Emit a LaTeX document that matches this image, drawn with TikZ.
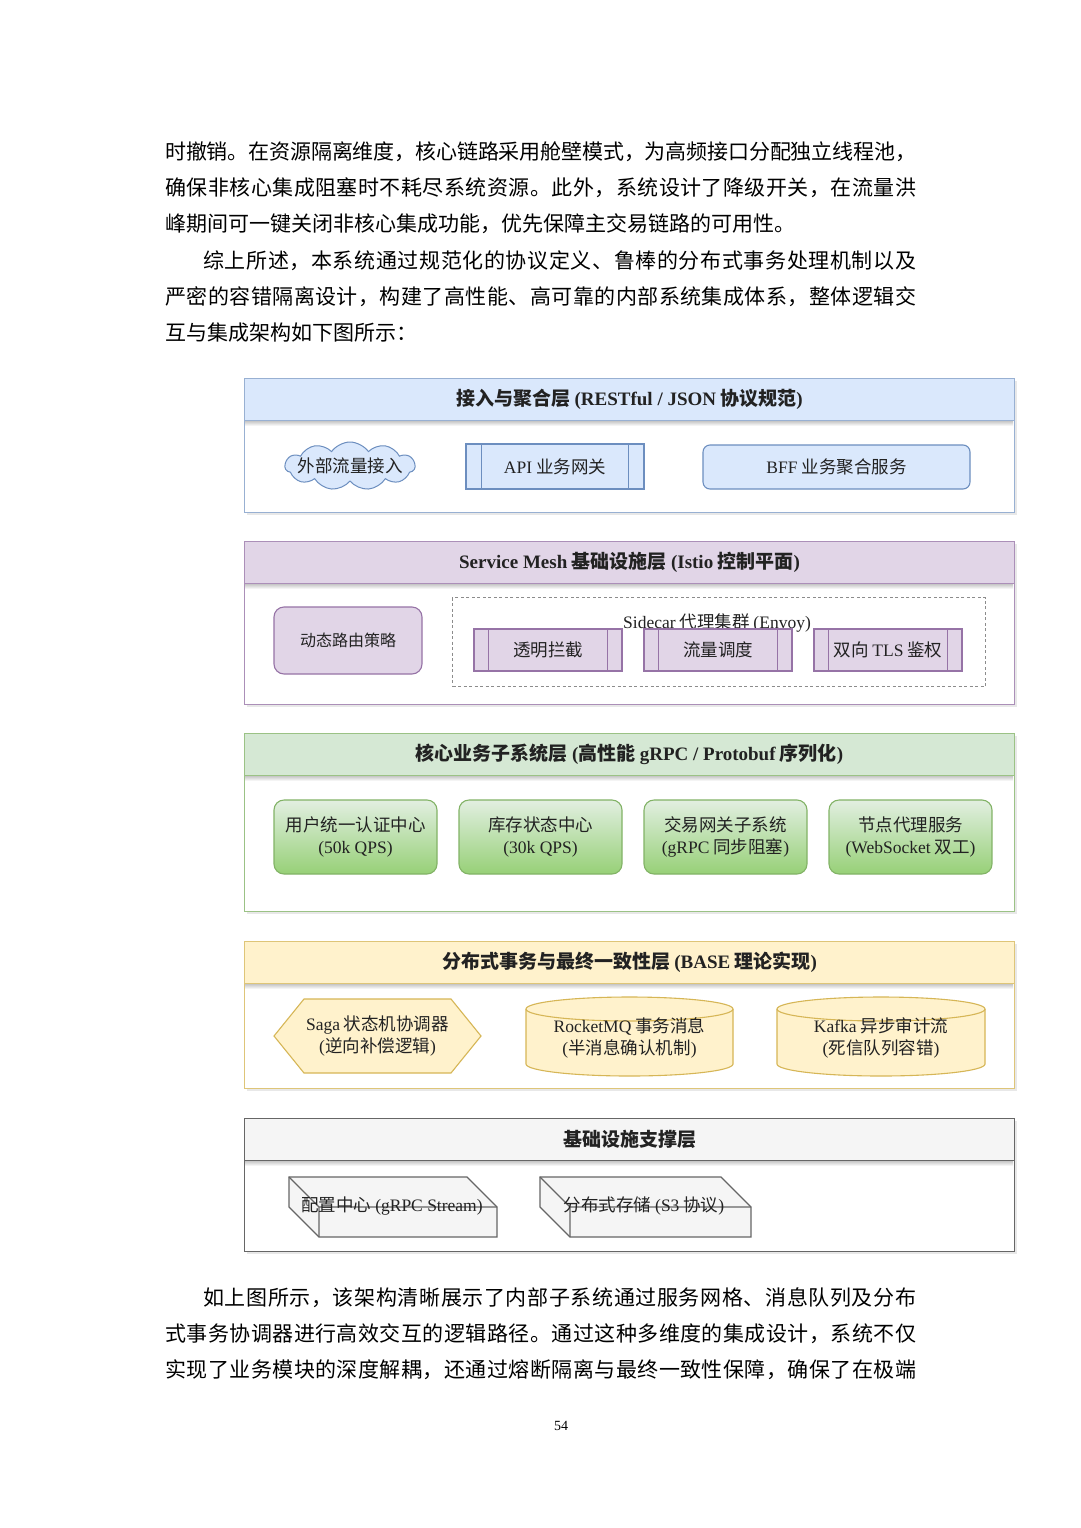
\documentclass[tikz,border=0pt]{standalone}
\usepackage{fontspec}
\setmainfont{Noto Sans CJK SC}
\newfontfamily\en{Liberation Serif}
\usetikzlibrary{shapes.symbols}
\newcommand\spr[1]{#1\sprx}
\newcommand\sprx[1]{\ifx\relax#1\else\hskip 0pt plus 4pt minus 1.5pt #1\expandafter\sprx\fi}
\newcommand\jline[2]{\makebox[#1][s]{\spr#2\relax}}
\definecolor{bF}{HTML}{DAE8FC}\definecolor{bS}{HTML}{6C8EBF}
\definecolor{pF}{HTML}{E1D5E7}\definecolor{pS}{HTML}{9673A6}
\definecolor{gF}{HTML}{D5E8D4}\definecolor{gS}{HTML}{82B366}\definecolor{gD}{HTML}{97D077}
\definecolor{yF}{HTML}{FFF2CC}\definecolor{yS}{HTML}{D6B656}
\definecolor{kF}{HTML}{F5F5F5}\definecolor{kS}{HTML}{666666}
\definecolor{txt}{HTML}{222222}
\tikzset{
  body/.style={anchor=west, inner sep=0pt, font=\fontsize{21}{21}\selectfont},
  layerbox/.style={anchor=north west, fill=white, line width=1.1pt, minimum width=770pt, inner sep=0pt},
  header/.style={anchor=north west, line width=1.1pt, minimum width=770pt, minimum height=42pt, inner sep=0pt,
    font=\fontsize{19}{19}\selectfont\bfseries, text=txt},
  nodetxt/.style={font=\fontsize{17.5}{22}\selectfont, align=center, text=txt, inner sep=0pt},
  shp/.style={line width=1.1pt, font=\fontsize{17.5}{22}\selectfont, align=center, text=txt, inner sep=0pt},
  gbox/.style={shp, draw=gS, top color=gF!70!white, bottom color=gD, rounded corners=10pt,
    minimum width=163pt, minimum height=74pt},
  shadowc/.style={fill=black!9},
}
\begin{document}
\begin{tikzpicture}[x=1pt,y=-1pt]
\useasboundingbox[fill=white] (0,0) rectangle (1080,1528);

% ---------- body text (top) ----------
\node[body] (p1) at (165,152) {\jline{751pt}{时撤销。在资源隔离维度，核心链路采用舱壁模式，为高频接口分配独立线程池，}};
\node[body] (p2) at (165,188) {\jline{751pt}{确保非核心集成阻塞时不耗尽系统资源。此外，系统设计了降级开关，在流量洪}};
\node[body] (p3) at (165,224) {峰期间可一键关闭非核心集成功能，优先保障主交易链路的可用性。};
\node[body] (p4) at (203,261) {\jline{713pt}{综上所述，本系统通过规范化的协议定义、鲁棒的分布式事务处理机制以及}};
\node[body] (p5) at (165,297) {\jline{751pt}{严密的容错隔离设计，构建了高性能、高可靠的内部系统集成体系，整体逻辑交}};
\node[body] (p6) at (165,333) {互与集成架构如下图所示：};

% ---------- layer 1 ----------
\fill[shadowc] (247,381) rectangle (1017,515);
\node[layerbox, draw=bS!70, minimum height=134pt] (L1) at (244,378) {};
\shade[top color=black!22, bottom color=white] (245,421) rectangle (1013,426);
\node[header, fill=bF, draw=bS!70] (H1) at (244,378) {接入与聚合层 {\en (RESTful / JSON} 协议规范{\en )}};
\node[cloud, cloud puffs=11, cloud puff arc=110, cloud ignores aspect, draw=bS, fill=bF, line width=1pt,
  minimum width=130pt, minimum height=48pt, inner sep=0pt] (cloud) at (350,466) {};
\node[nodetxt] (cloudt) at (cloud.center) {外部流量接入};
\node[shp, draw=bS, fill=bF, minimum width=178pt, minimum height=45pt] (api) at (555,466.5) {{\en API} 业务网关};
\draw[bS, line width=1.1pt] ([xshift=16pt]api.north west) -- ([xshift=16pt]api.south west);
\draw[bS, line width=1.1pt] ([xshift=-16pt]api.north east) -- ([xshift=-16pt]api.south east);
\node[shp, draw=bS, fill=bF, rounded corners=7pt, minimum width=267pt, minimum height=44pt] (bff) at (836.5,467) {{\en BFF} 业务聚合服务};

% ---------- layer 2 ----------
\fill[shadowc] (247,544) rectangle (1017,707);
\node[layerbox, draw=pS!80, minimum height=163pt] (L2) at (244,541) {};
\shade[top color=black!22, bottom color=white] (245,584) rectangle (1013,589);
\node[header, fill=pF, draw=pS!80] (H2) at (244,541) {{\en Service Mesh} 基础设施层 {\en (Istio} 控制平面{\en )}};
\node[shp, draw=pS, fill=pF, rounded corners=10pt, minimum width=148pt, minimum height=67pt,
  font=\fontsize{16}{20}\selectfont] (route) at (348,640.5) {动态路由策略};
\node[anchor=north west, draw=black!45, dash pattern=on 3pt off 2.5pt, line width=1pt,
  minimum width=533pt, minimum height=89pt, inner sep=0pt] (sidecar) at (452,597) {};
\node[nodetxt] (sidecarlbl) at (717,623) {{\en Sidecar} 代理集群 {\en (Envoy)}};
\foreach \nm/\cx/\tx in {intercept/548/透明拦截, sched/718/流量调度, tls/888/{双向 {\en TLS} 鉴权}}{
  \node[shp, draw=pS, fill=pF, minimum width=148pt, minimum height=42pt] (\nm) at (\cx,650) {\tx};
  \draw[pS, line width=1.1pt] ([xshift=15pt]\nm.north west) -- ([xshift=15pt]\nm.south west);
  \draw[pS, line width=1.1pt] ([xshift=-15pt]\nm.north east) -- ([xshift=-15pt]\nm.south east);
}

% ---------- layer 3 ----------
\fill[shadowc] (247,736) rectangle (1017,914);
\node[layerbox, draw=gS!80, minimum height=178pt] (L3) at (244,733) {};
\shade[top color=black!22, bottom color=white] (245,776) rectangle (1013,781);
\node[header, fill=gF, draw=gS!80] (H3) at (244,733) {核心业务子系统层 {\en (}高性能 {\en gRPC / Protobuf} 序列化{\en )}};
\node[gbox] (auth) at (355.5,837) {用户统一认证中心\\{\en (50k QPS)}};
\node[gbox] (stock) at (540.5,837) {库存状态中心\\{\en (30k QPS)}};
\node[gbox] (trade) at (725.5,837) {交易网关子系统\\{\en (gRPC} 同步阻塞{\en )}};
\node[gbox] (agent) at (910.5,837) {节点代理服务\\{\en (WebSocket} 双工{\en )}};

% ---------- layer 4 ----------
\fill[shadowc] (247,944) rectangle (1017,1091);
\node[layerbox, draw=yS!80, minimum height=147pt] (L4) at (244,941) {};
\shade[top color=black!22, bottom color=white] (245,984) rectangle (1013,989);
\node[header, fill=yF, draw=yS!80] (H4) at (244,941) {分布式事务与最终一致性层 {\en (BASE} 理论实现{\en )}};
\filldraw[fill=yF, draw=yS, line width=1.1pt] (274,1036) -- (304,999) -- (451,999) -- (481,1036) -- (451,1073) -- (304,1073) -- cycle;
\node[nodetxt] (saga) at (377.5,1036) {{\en Saga} 状态机协调器\\{\en (}逆向补偿逻辑{\en )}};
% cylinder 1
\filldraw[fill=yF, draw=yS, line width=1.1pt] (526,1009) -- (526,1064)
  arc[start angle=180, end angle=360, x radius=103.5pt, y radius=12pt] -- (733,1009)
  arc[start angle=0, end angle=180, x radius=103.5pt, y radius=12pt] -- cycle;
\draw[yS, line width=1.1pt] (526,1009) arc[start angle=180, end angle=360, x radius=103.5pt, y radius=12pt];
\node[nodetxt] (rmq) at (629.5,1038) {{\en RocketMQ} 事务消息\\{\en (}半消息确认机制{\en )}};
% cylinder 2
\filldraw[fill=yF, draw=yS, line width=1.1pt] (777,1009) -- (777,1064)
  arc[start angle=180, end angle=360, x radius=104pt, y radius=12pt] -- (985,1009)
  arc[start angle=0, end angle=180, x radius=104pt, y radius=12pt] -- cycle;
\draw[yS, line width=1.1pt] (777,1009) arc[start angle=180, end angle=360, x radius=104pt, y radius=12pt];
\node[nodetxt] (kafka) at (881,1038) {{\en Kafka} 异步审计流\\{\en (}死信队列容错{\en )}};

% ---------- layer 5 ----------
\fill[shadowc] (247,1121) rectangle (1017,1254);
\node[layerbox, draw=kS, minimum height=133pt] (L5) at (244,1118) {};
\shade[top color=black!22, bottom color=white] (245,1161) rectangle (1013,1166);
\node[header, fill=kF, draw=kS] (H5) at (244,1118) {基础设施支撑层};
\filldraw[fill=kF, draw=kS, line width=1.1pt] (289,1177) -- (467,1177) -- (497,1207) -- (497,1237) -- (319,1237) -- (289,1207) -- cycle;
\draw[kS, line width=1.1pt] (289,1177) -- (319,1207) -- (497,1207) (319,1207) -- (319,1237);
\node[nodetxt] (cfg) at (392,1206) {配置中心 {\en (gRPC Stream)}};
\filldraw[fill=kF, draw=kS, line width=1.1pt] (540,1177) -- (721,1177) -- (751,1207) -- (751,1237) -- (570,1237) -- (540,1207) -- cycle;
\draw[kS, line width=1.1pt] (540,1177) -- (570,1207) -- (751,1207) (570,1207) -- (570,1237);
\node[nodetxt] (store) at (644,1206) {分布式存储 {\en (S3} 协议{\en )}};

% ---------- body text (bottom) ----------
\node[body] (q1) at (203,1298) {\jline{713pt}{如上图所示，该架构清晰展示了内部子系统通过服务网格、消息队列及分布}};
\node[body] (q2) at (165,1334) {\jline{751pt}{式事务协调器进行高效交互的逻辑路径。通过这种多维度的集成设计，系统不仅}};
\node[body] (q3) at (165,1370) {\jline{751pt}{实现了业务模块的深度解耦，还通过熔断隔离与最终一致性保障，确保了在极端}};
\node[font=\fontsize{14}{14}\selectfont\en, inner sep=0pt] (pg) at (561,1426) {54};
\end{tikzpicture}
\end{document}
